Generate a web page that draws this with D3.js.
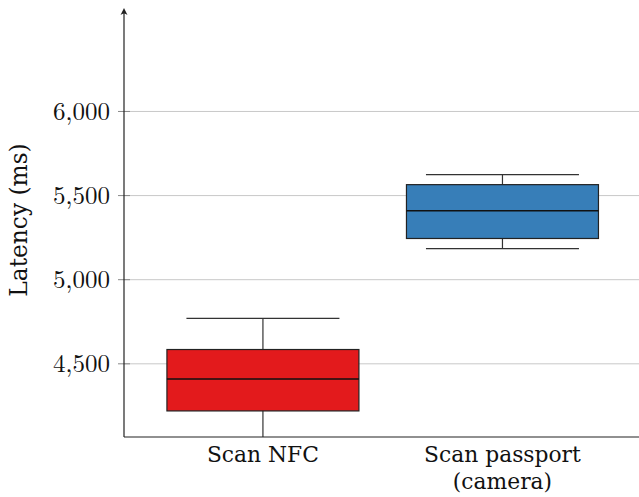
<!DOCTYPE html>
<html>
<head>
<meta charset="utf-8">
<script src="https://cdn.jsdelivr.net/npm/d3@7"></script>
<style>
  body { margin: 0; background: #fff; }
  svg { display: block; }
</style>
</head>
<body>
<script>
const categories = ["Scan NFC", "Scan passport\n(camera)"];
const boxColors = ["#e31a1c", "#377eb8"];
// [lower whisker, q1, median, q3, upper whisker]
const nfcStats = [3900, 4220, 4410, 4585, 4770];
const passportStats = [5185, 5245, 5410, 5565, 5625];
const yTicks = [4500, 5000, 5500, 6000];

const stats = [nfcStats, passportStats];

let width = 639;
let height = 497;
let margin = { top: 8, right: 0, bottom: 60, left: 124 };
let plotBottom = height - margin.bottom;

let svg = d3.select("body").append("svg")
  .attr("width", width).attr("height", height);

let yScale = d3.scaleLinear()
  .domain([4065, 6615])
  .range([plotBottom, margin.top]);
let xScale = d3.scaleLinear()
  .domain([0.42, 2.57])
  .range([margin.left, width - margin.right]);

svg.append("defs").append("clipPath").attr("id", "plot")
  .append("rect")
  .attr("x", margin.left).attr("y", margin.top)
  .attr("width", width - margin.left).attr("height", plotBottom - margin.top);

// grid lines
svg.append("g")
  .selectAll("line")
  .data(yTicks)
  .join("line")
  .attr("x1", margin.left).attr("x2", width)
  .attr("y1", d => yScale(d)).attr("y2", d => yScale(d))
  .attr("stroke", "#c8c8c8").attr("stroke-width", 1);

// boxes
let boxW = 192, capW = 153;
let boxes = svg.append("g").attr("clip-path", "url(#plot)")
  .selectAll("g")
  .data(stats)
  .join("g");

boxes.append("line")
  .attr("x1", (d, i) => xScale(i + 1)).attr("x2", (d, i) => xScale(i + 1))
  .attr("y1", d => yScale(d[0])).attr("y2", d => yScale(d[4]))
  .attr("stroke", "#333").attr("stroke-width", 1.2);
boxes.selectAll(".cap")
  .data((d, i) => [[d[0], i], [d[4], i]])
  .join("line")
  .attr("class", "cap")
  .attr("x1", d => xScale(d[1] + 1) - capW / 2)
  .attr("x2", d => xScale(d[1] + 1) + capW / 2)
  .attr("y1", d => yScale(d[0])).attr("y2", d => yScale(d[0]))
  .attr("stroke", "#333").attr("stroke-width", 1.2);
boxes.append("rect")
  .attr("x", (d, i) => xScale(i + 1) - boxW / 2)
  .attr("width", boxW)
  .attr("y", d => yScale(d[3]))
  .attr("height", d => yScale(d[1]) - yScale(d[3]))
  .attr("fill", (d, i) => boxColors[i])
  .attr("stroke", "#222").attr("stroke-width", 1.2);
boxes.append("line")
  .attr("x1", (d, i) => xScale(i + 1) - boxW / 2)
  .attr("x2", (d, i) => xScale(i + 1) + boxW / 2)
  .attr("y1", d => yScale(d[2])).attr("y2", d => yScale(d[2]))
  .attr("stroke", "#111").attr("stroke-width", 1.4);

// y axis
let yAxis = d3.axisLeft(yScale)
  .tickValues(yTicks)
  .tickSize(0)
  .tickPadding(14)
  .tickFormat(d3.format(","));
svg.append("g")
  .attr("transform", `translate(${margin.left},0)`)
  .call(yAxis)
  .call(g => g.select(".domain").remove())
  .call(g => g.selectAll("text")
    .attr("font-family", "'Latin Modern Roman', 'Liberation Serif', serif")
    .attr("font-size", 25).attr("fill", "#111"));
svg.append("g")
  .selectAll("line")
  .data(yTicks)
  .join("line")
  .attr("x1", margin.left - 6).attr("x2", margin.left + 6)
  .attr("y1", d => yScale(d)).attr("y2", d => yScale(d))
  .attr("stroke", "#888").attr("stroke-width", 1);

// axis lines
svg.append("line")
  .attr("x1", margin.left).attr("x2", margin.left)
  .attr("y1", plotBottom).attr("y2", margin.top + 2)
  .attr("stroke", "#222").attr("stroke-width", 1.2);
svg.append("path")
  .attr("d", `M${margin.left - 3.5},${margin.top + 7} L${margin.left},${margin.top} L${margin.left + 3.5},${margin.top + 7} Q${margin.left},${margin.top + 4} ${margin.left - 3.5},${margin.top + 7}Z`)
  .attr("fill", "#222");
svg.append("line")
  .attr("x1", margin.left).attr("x2", width)
  .attr("y1", plotBottom).attr("y2", plotBottom)
  .attr("stroke", "#222").attr("stroke-width", 1.2);

// x labels
let xl = svg.append("g")
  .selectAll("text")
  .data(categories)
  .join("text")
  .attr("x", (d, i) => xScale(i + 1))
  .attr("y", plotBottom + 25)
  .attr("text-anchor", "middle")
  .attr("font-family", "'DejaVu Serif', serif")
  .attr("font-size", 21.8)
  .attr("fill", "#111");
xl.selectAll("tspan")
  .data(d => d.split("\n"))
  .join("tspan")
  .attr("x", function () { return this.parentNode.getAttribute("x"); })
  .attr("dy", (d, i) => i === 0 ? 0 : 27)
  .text(d => d);

// y label
svg.append("text")
  .attr("transform", "translate(27,220) rotate(-90)")
  .attr("text-anchor", "middle")
  .attr("font-family", "'DejaVu Serif', serif")
  .attr("font-size", 23.3)
  .attr("fill", "#111")
  .text("Latency (ms)");
</script>
</body>
</html>
